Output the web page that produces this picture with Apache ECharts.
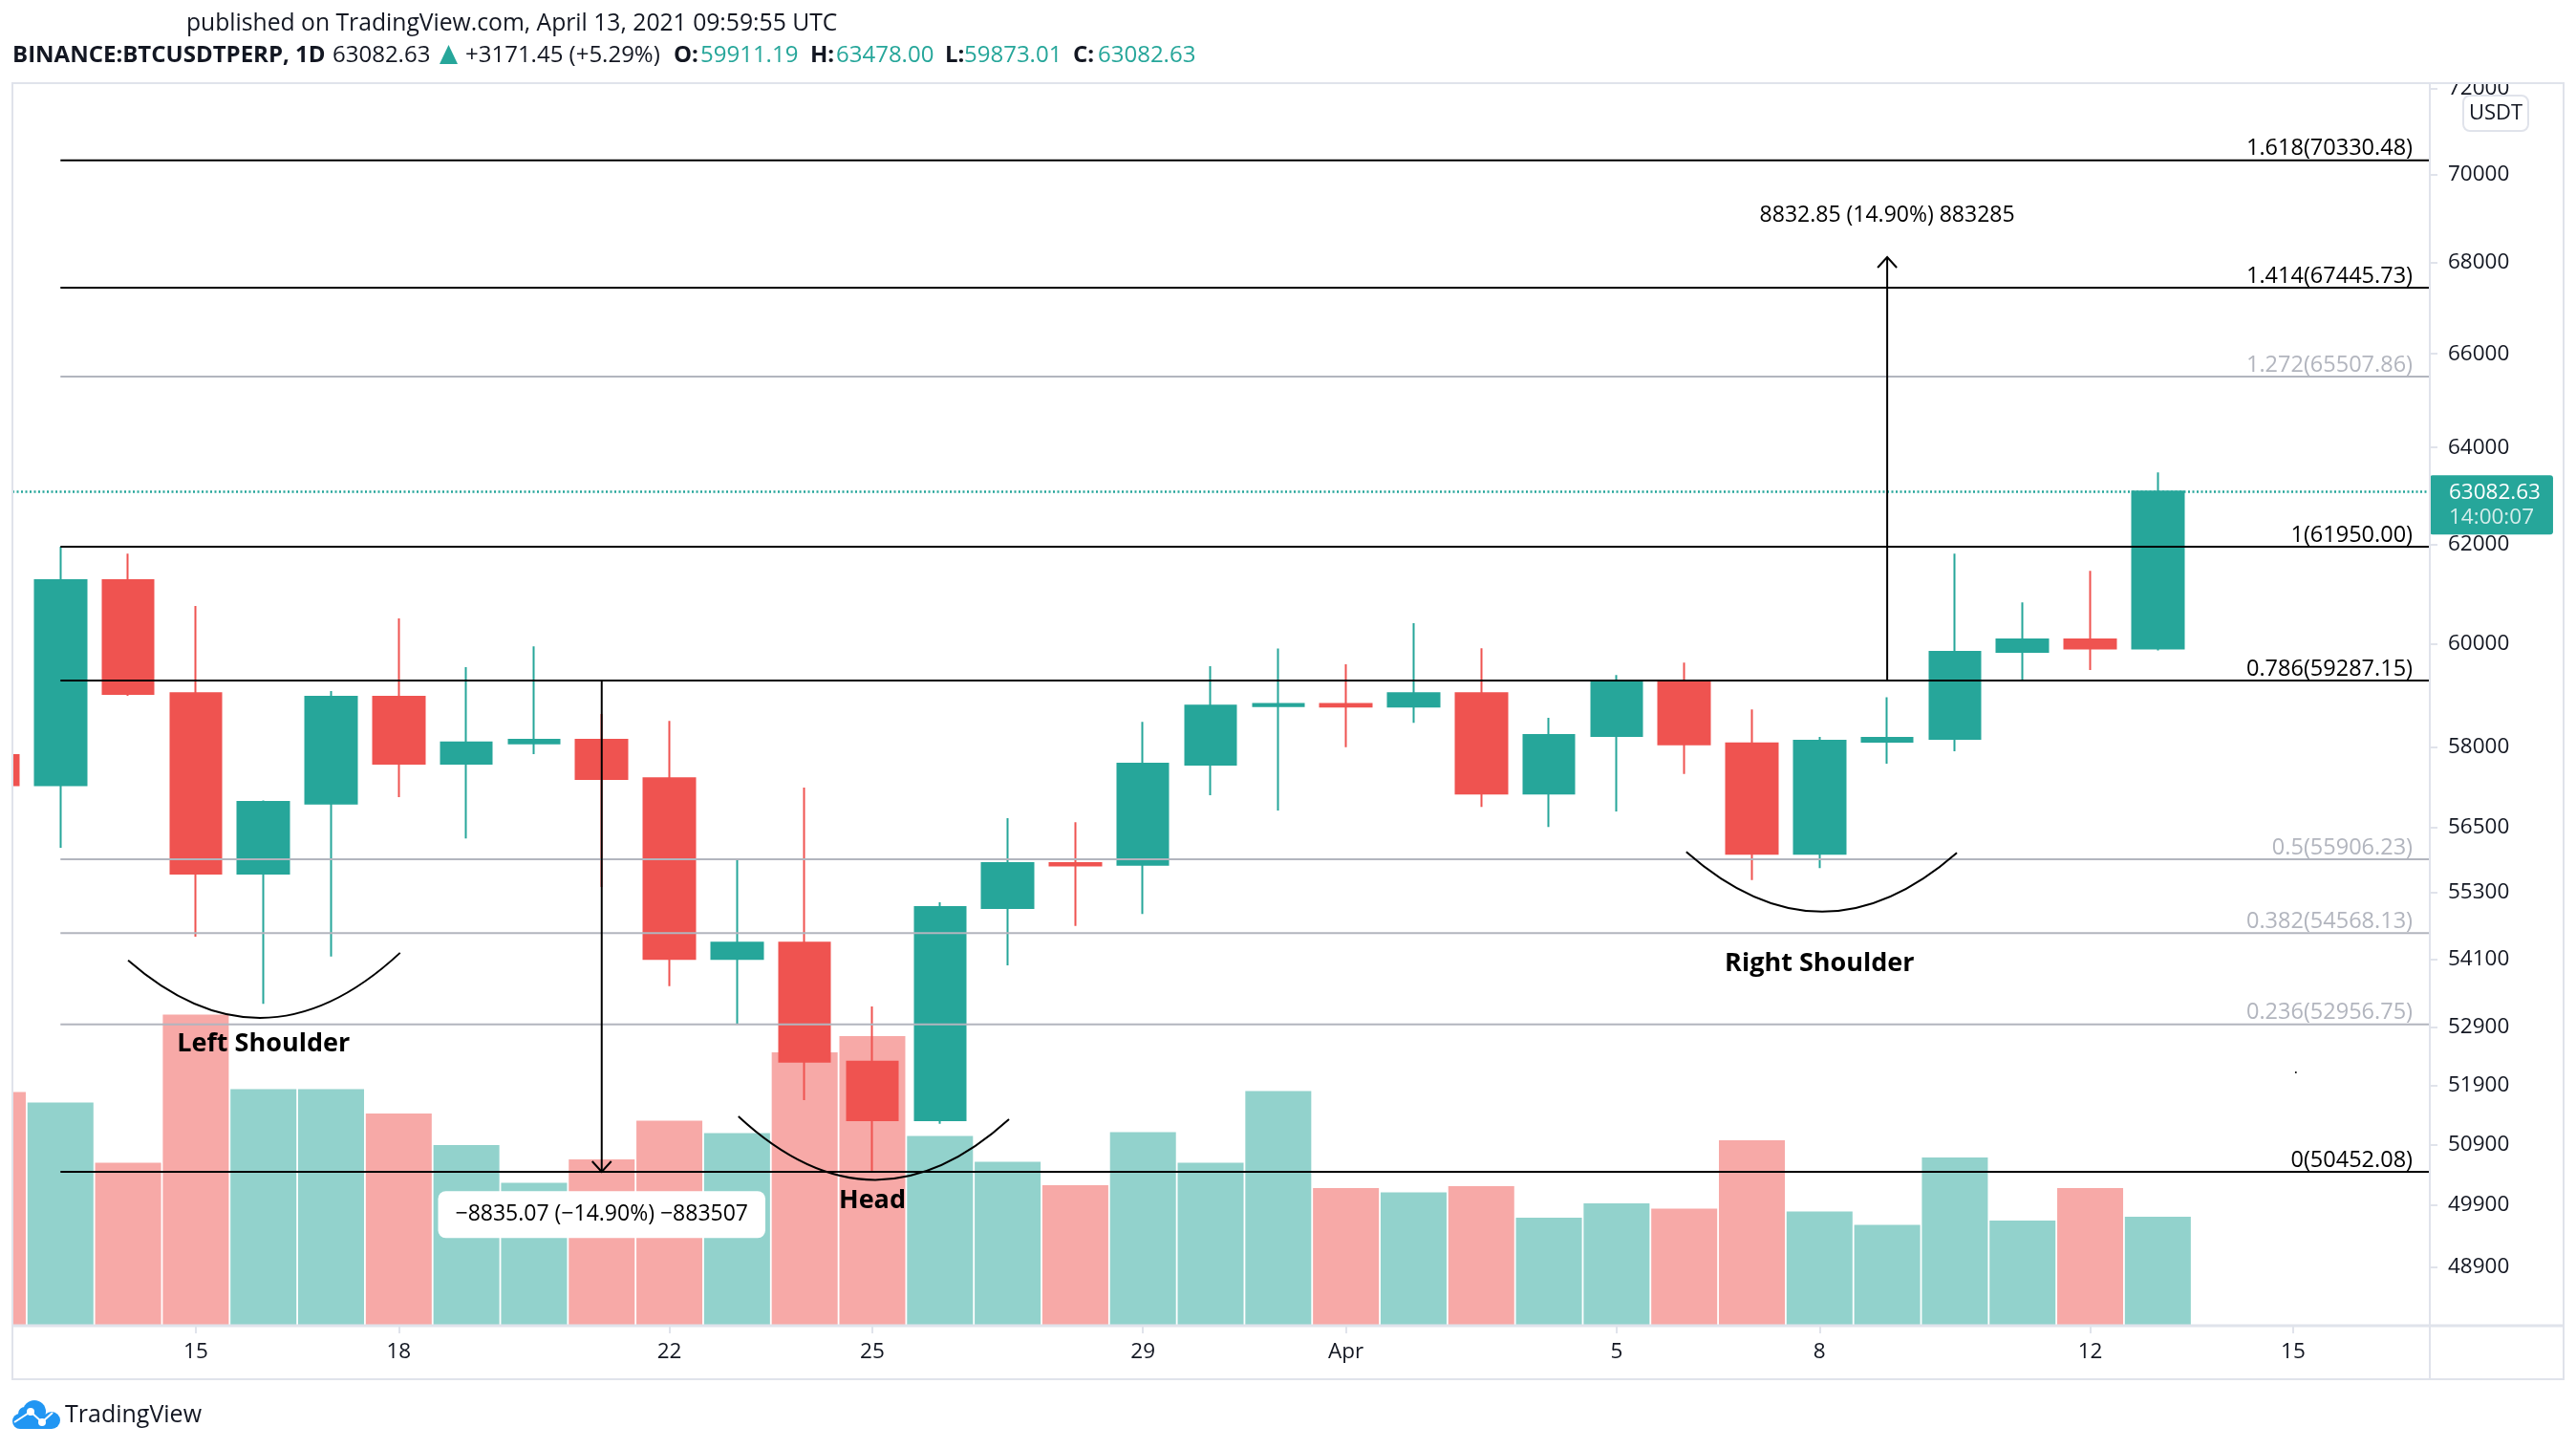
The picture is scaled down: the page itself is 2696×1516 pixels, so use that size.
<!DOCTYPE html>
<html>
<head>
  <meta charset="UTF-8">
  <script src="https://cdn.jsdelivr.net/npm/echarts@6/dist/echarts.min.js"></script>
  <style>
    html, body { margin: 0; background: #fff; }
    #chart { width: 2696px; height: 1516px; }
  </style>
</head>
<body>
<div id="chart"></div>
<script>
var days = ['2021-03-12','2021-03-13','2021-03-14','2021-03-15','2021-03-16','2021-03-17','2021-03-18','2021-03-19','2021-03-20','2021-03-21','2021-03-22','2021-03-23','2021-03-24','2021-03-25','2021-03-26','2021-03-27','2021-03-28','2021-03-29','2021-03-30','2021-03-31','2021-04-01','2021-04-02','2021-04-03','2021-04-04','2021-04-05','2021-04-06','2021-04-07','2021-04-08','2021-04-09','2021-04-10','2021-04-11','2021-04-12','2021-04-13'];
var opens  = [57853,57284,61273,59040,55643,56936,58969,57686,58073,58144,57413,54106,54394,52310,51316,55019,55837,55803,57668,58790,58830,58781,59040,57126,58216,59248,58073,56007,58108,58160,59846,60092,59911.19];
var closes = [57284,61273,59023,55643,56970,58969,57686,58091,58144,57397,54106,54394,52310,51316,55036,55837,55790,57686,58799,58830,58780,59040,57126,58232,59248,58055,56007,58125,58179,59846,60092,59911,63082.63];
var lows   = [57000,56118,58987,54502,53314,54147,57058,56289,57870,55398,53623,52967,51654,50465,51253,53991,54694,54911,57092,56806,58002,58469,56876,56503,56788,57493,55524,55744,57686,57924,59293,59492,59873.01];
var highs  = [58100,61950,61806,60754,56997,59080,60506,59546,59955,58637,58505,55888,57239,53266,55121,56667,56590,58487,59565,59910,59600,60412,59918,58565,59391,59636,58727,58197,58960,61806,60828,61459,63478];
var volumes = [489,467,341,651,495,495,444,378,299,348,429,403,572,606,397,343,294,405,341,491,288,279,292,226,256,245,388,239,211,352,220,288,228];

var priceTicks = [72000,70000,68000,66000,64000,62000,60000,58000,56500,55300,54100,52900,51900,50900,49900,48900];
var dateTicks = ['2021-03-15','2021-03-18','2021-03-22','2021-03-25','2021-03-29','2021-04-01','2021-04-05','2021-04-08','2021-04-12','2021-04-15'];

var fibRatios = ['1.618','1.414','1.272','1','0.786','0.5','0.382','0.236','0'];
var fibPrices = [70330.48,67445.73,65507.86,61950.00,59287.15,55906.23,54568.13,52956.75,50452.08];
var fibMuted  = [false,false,true,false,false,true,true,true,false];

// shoulder and head curves, one per row: start, control, end as day after Mar 13 and price
var arcs = [
  [1.0,54081, 3.01,52012, 5.02,54214],
  [10.02,51379, 12.02,49304, 14.02,51330],
  [24.03,56042, 26.03,53891, 28.03,56024]
];

var arrows = [['2021-03-21',59287.15,50452.08],['2021-04-09',59287.15,68129]];
var lastPrice = 63082.63;

var UP = '#26a69a', DOWN = '#ef5350';
var UP_VOL = '#92d2cc', DOWN_VOL = '#f7a9a7';
var FRAME = '#e0e3eb', MUTED = '#b2b5be', INK = '#131722';
var FONT = '"Open Sans", sans-serif';
var DAY = 864e5;
var t0 = Date.parse('2021-03-13');
// x axis runs in days after Mar 13
var dayOf = function (d) { return (Date.parse(d) - t0) / DAY; };
var xMin = -0.71, xMax = 35.02;

var headerStyles = {
  b: { fontFamily: FONT, fontSize: 24, fontWeight: 'bold', color: INK },
  n: { fontFamily: FONT, fontSize: 24, fontWeight: 'normal', color: INK },
  g: { fontFamily: FONT, fontSize: 24, fontWeight: 'normal', color: UP }
};
var headerText = ['BINANCE:BTCUSDTPERP, 1D','63082.63','+3171.45 (+5.29%)','O:','59911.19','H:','63478.00','L:','59873.01','C:','63082.63'];
var headerLeft = [13,348,487,705,733,848,875,989,1009,1123,1149];
var headerKind = ['b','n','n','b','g','b','g','b','g','b','g'];

function note(day, price, text, label) {
  return { value: [day, price], label: Object.assign({ show: true, opacity: 1, formatter: text, position: 'inside', color: '#000', fontSize: 23, fontFamily: FONT }, label) };
}

var notes = [
  note(3, 52620, 'Left Shoulder', { fontWeight: 'bold', fontSize: 27 }),
  note(12, 49979, 'Head', { fontWeight: 'bold', fontSize: 27 }),
  note(26, 54020, 'Right Shoulder', { fontWeight: 'bold', fontSize: 27 }),
  note(27, 69077, '8832.85 (14.90%) 883285', {}),
  note(8, 49748, '\u22128835.07 (\u221214.90%) \u2212883507', { backgroundColor: '#fff', borderRadius: 8, padding: [13, 18] })
];
var fibLabels = fibPrices.map(function (p, i) {
  return { value: [xMax, p], label: { show: true, opacity: 1, formatter: fibRatios[i] + '(' + p.toFixed(2) + ')', position: 'left', distance: 0, offset: [-18, -12], color: fibMuted[i] ? MUTED : '#000', fontSize: 23.5, fontFamily: FONT } };
});

var fibSeries = fibPrices.map(function (p, i) {
  return {
    type: 'line', symbol: 'none', z: 4, silent: true,
    lineStyle: { color: fibMuted[i] ? MUTED : '#000', width: 2 },
    data: [[0, p], [xMax, p]]
  };
});

var chart = echarts.init(document.getElementById('chart'));
chart.setOption({
  animation: false,
  backgroundColor: '#fff',
  title: [
    { left: 195, top: 12, padding: 0, text: 'published on TradingView.com, April 13, 2021 09:59:55 UTC', textStyle: { fontFamily: FONT, fontSize: 24.7, fontWeight: 'normal', color: INK } }
  ].concat(headerText.map(function (t, i) {
    return { left: headerLeft[i], top: 46, padding: 0, text: t, textStyle: headerStyles[headerKind[i]] };
  })),
  grid: { left: 13, right: 153, top: 87, bottom: 129 },
  xAxis: {
    type: 'value', min: xMin, max: xMax,
    axisLine: { show: false, onZero: false },
    axisTick: { show: true, length: 8, lineStyle: { color: FRAME, width: 2 }, customValues: dateTicks.map(dayOf) },
    axisLabel: {
      color: INK, fontSize: 22.5, fontFamily: FONT, margin: 16,
      customValues: dateTicks.map(dayOf),
      formatter: function (v) { var d = new Date(t0 + v * DAY); return d.getUTCDate() === 1 ? 'Apr' : String(d.getUTCDate()); }
    },
    splitLine: { show: false }
  },
  yAxis: [
    {
      type: 'log', logBase: 10, position: 'right', min: 47966, max: 72134,
      axisLine: { show: false, onZero: false },
      axisTick: { show: true, length: 8, lineStyle: { color: FRAME, width: 2 }, customValues: priceTicks },
      axisLabel: { color: INK, fontSize: 22.5, fontFamily: FONT, margin: 19, customValues: priceTicks, formatter: function (v) { return String(Math.round(v)); } },
      splitLine: { show: false }, minorTick: { show: false }
    },
    { type: 'value', min: 0, max: 2600, show: false, splitLine: { show: false } }
  ],
  series: [
    {
      type: 'bar', yAxisIndex: 1, barWidth: 69, z: 1, silent: true,
      data: volumes.map(function (v, i) {
        return { value: [dayOf(days[i]), v], itemStyle: { color: closes[i] >= opens[i] ? UP_VOL : DOWN_VOL } };
      })
    },
    {
      type: 'candlestick', barWidth: 54, z: 2, silent: true,
      itemStyle: { color: UP, color0: DOWN, borderColor: UP, borderColor0: DOWN, borderWidth: 2 },
      encode: { x: 0, y: [1, 2, 3, 4] },
      data: days.map(function (d, i) { return [dayOf(d), opens[i], closes[i], lows[i], highs[i]]; }),
      markLine: {
        silent: true, symbol: 'none', animation: false,
        lineStyle: { color: UP, type: [2, 2.5], width: 2.5 },
        label: {
          show: true, position: 'end', distance: 0, offset: [0, 14],
          formatter: '{p|63082.63}\n{t|14:00:07}', backgroundColor: UP, borderRadius: 3, padding: [5, 13, 5, 20],
          rich: { p: { color: '#fff', fontSize: 22.5, fontFamily: FONT, lineHeight: 26 }, t: { color: '#d4edeb', fontSize: 22.5, fontFamily: FONT, lineHeight: 26 } }
        },
        data: [{ yAxis: lastPrice }]
      }
    }
  ].concat(fibSeries, [
    {
      type: 'custom', z: 6, silent: true, clip: false,
      data: arcs,
      renderItem: function (params, api) {
        var s = api.coord([api.value(0), api.value(1)]);
        var c = api.coord([api.value(2), api.value(3)]);
        var e = api.coord([api.value(4), api.value(5)]);
        return { type: 'bezierCurve', shape: { x1: s[0], y1: s[1], cpx1: c[0], cpy1: c[1], x2: e[0], y2: e[1] }, style: { stroke: '#000', lineWidth: 2, fill: 'none' } };
      },
      encode: { x: [0, 2, 4], y: [1, 3, 5] }
    },
    {
      type: 'custom', z: 5, silent: true, clip: false,
      data: arrows.map(function (a) { return [dayOf(a[0]), a[1], a[2]]; }),
      encode: { x: 0, y: [1, 2] },
      renderItem: function (params, api) {
        var a = api.coord([api.value(0), api.value(1)]);
        var b = api.coord([api.value(0), api.value(2)]);
        var dir = b[1] > a[1] ? 1 : -1;
        var style = { stroke: '#000', lineWidth: 2, fill: 'none' };
        return { type: 'group', children: [
          { type: 'line', shape: { x1: a[0], y1: a[1], x2: b[0], y2: b[1] }, style: style },
          { type: 'polyline', shape: { points: [[b[0] - 10, b[1] - dir * 11], b, [b[0] + 10, b[1] - dir * 11]] }, style: style }
        ] };
      }
    },
    { type: 'scatter', symbolSize: 0, z: 7, silent: true, itemStyle: { opacity: 1 }, data: notes.concat(fibLabels) },
    { type: 'scatter', symbolSize: 2, z: 7, silent: true, itemStyle: { color: '#000', opacity: 1 }, data: [[33.04, 52126]] }
  ]),
  graphic: [
    { type: 'rect', z: 20, shape: { x: 0, y: 87, width: 12, height: 1300 }, style: { fill: '#fff' } },
    { type: 'rect', z: 20, shape: { x: 2545, y: 60, width: 140, height: 27 }, style: { fill: '#fff' } },
    { type: 'rect', z: 21, shape: { x: 13, y: 87, width: 2670, height: 1356 }, style: { fill: 'none', stroke: FRAME, lineWidth: 2 } },
    { type: 'line', z: 21, shape: { x1: 2543, y1: 87, x2: 2543, y2: 1443 }, style: { stroke: FRAME, lineWidth: 2 } },
    { type: 'line', z: 21, shape: { x1: 13, y1: 1387, x2: 2683, y2: 1387 }, style: { stroke: FRAME, lineWidth: 3 } },
    { type: 'rect', z: 22, shape: { x: 2578, y: 100, width: 68, height: 37, r: 7 }, style: { fill: '#fff', stroke: FRAME, lineWidth: 2 } },
    { type: 'text', z: 23, x: 2612, y: 119, style: { text: 'USDT', font: '22px ' + FONT, fill: INK, textAlign: 'center', textVerticalAlign: 'middle' } },
    { type: 'polygon', z: 23, shape: { points: [[460, 67], [479, 67], [469.5, 47]] }, style: { fill: UP } },
    { type: 'circle', z: 23, shape: { cx: 36, cy: 1477, r: 12 }, style: { fill: '#2196f3' } },
    { type: 'circle', z: 23, shape: { cx: 21, cy: 1487, r: 8 }, style: { fill: '#2196f3' } },
    { type: 'circle', z: 23, shape: { cx: 26, cy: 1479, r: 7 }, style: { fill: '#2196f3' } },
    { type: 'circle', z: 23, shape: { cx: 54, cy: 1486, r: 9 }, style: { fill: '#2196f3' } },
    { type: 'rect', z: 23, shape: { x: 21, y: 1480, width: 33, height: 15 }, style: { fill: '#2196f3' } },
    { type: 'polyline', z: 24, shape: { points: [[15, 1488], [32, 1477], [44, 1488], [55, 1478]] }, style: { stroke: '#fff', lineWidth: 2, fill: 'none' } },
    { type: 'circle', z: 24, shape: { cx: 32, cy: 1477, r: 4 }, style: { fill: '#fff' } },
    { type: 'circle', z: 24, shape: { cx: 44, cy: 1488, r: 4 }, style: { fill: '#fff' } },
    { type: 'text', z: 23, x: 68, y: 1481, style: { text: 'TradingView', font: '25px ' + FONT, fill: INK, textVerticalAlign: 'middle' } }
  ]
});
</script>
</body>
</html>
